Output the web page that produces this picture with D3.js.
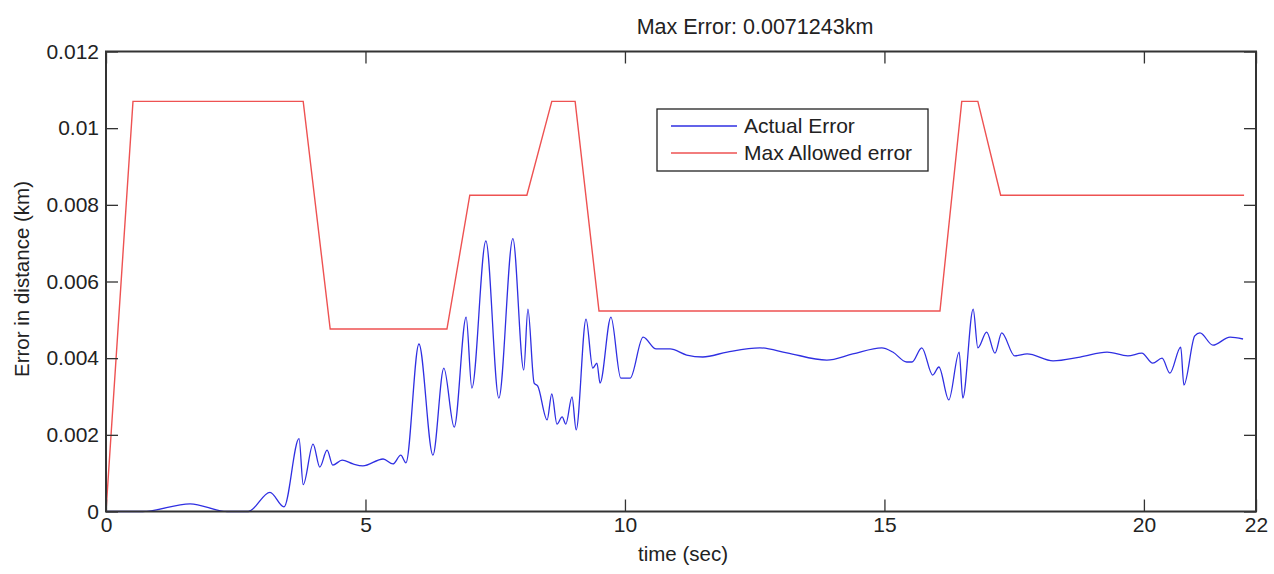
<!DOCTYPE html>
<html>
<head>
<meta charset="utf-8">
<script src="https://cdn.jsdelivr.net/npm/d3@7"></script>
<style>
  body { margin: 0; background: #fff; }
  svg { display: block; }
  text { font-family: "Liberation Sans", Arial, Helvetica, sans-serif; fill: #222; }
</style>
</head>
<body>
<svg width="1274" height="574"></svg>
<script>
// time axis of the actual error trace (sec)
var actualTime = [0, 0.71, 1.62, 2.33, 2.74, 3.16, 3.43, 3.72, 3.80, 3.99, 4.12, 4.26, 4.37, 4.55,
  4.76, 4.95, 5.34, 5.53, 5.68, 5.78, 6.03, 6.30, 6.51, 6.71, 6.94, 7.05, 7.32, 7.57, 7.84,
  8.05, 8.13, 8.25, 8.32, 8.50, 8.59, 8.69, 8.79, 8.86, 8.98, 9.06, 9.25, 9.38, 9.46, 9.52,
  9.73, 9.92, 10.10, 10.35, 10.60, 10.87, 11.19, 11.50, 11.97, 12.60, 13.12, 13.89, 14.39,
  14.95, 15.16, 15.43, 15.53, 15.72, 15.93, 16.05, 16.24, 16.44, 16.51, 16.71, 16.80, 16.97,
  17.13, 17.26, 17.51, 17.75, 18.25, 18.77, 19.29, 19.69, 19.96, 20.17, 20.35, 20.50, 20.71,
  20.77, 20.98, 21.08, 21.33, 21.66, 21.91];
// actual error (km)
var actualError = [0, 0, 0.0002, 0, 0, 0.0005, 0.00012, 0.0019, 0.0007, 0.00176, 0.00116, 0.0016,
  0.00121, 0.00134, 0.00124, 0.00119, 0.00137, 0.00124, 0.00147, 0.00127, 0.00437, 0.00147,
  0.00374, 0.0022, 0.00507, 0.00322, 0.00706, 0.00296, 0.00712, 0.00369, 0.00528, 0.00335,
  0.00327, 0.00239, 0.00307, 0.00228, 0.00247, 0.00228, 0.00299, 0.00213, 0.00502, 0.00374,
  0.00387, 0.00335, 0.00507, 0.00348, 0.00348, 0.00455, 0.00424, 0.00424, 0.00408, 0.00403,
  0.00416, 0.00427, 0.00414, 0.00395, 0.00411, 0.00427, 0.00416, 0.0039, 0.0039, 0.00427,
  0.00356, 0.00377, 0.00291, 0.00416, 0.00296, 0.00528, 0.00427, 0.00468, 0.00413, 0.00466,
  0.00406, 0.00411, 0.00393, 0.00403, 0.00416, 0.00406, 0.00413, 0.00387, 0.004, 0.00361,
  0.00429, 0.0033, 0.00458, 0.00466, 0.00434, 0.00455, 0.0045];

// max allowed error corners
var allowedTime = [0, 0.52, 3.80, 4.32, 6.57, 7.01, 8.11, 8.59, 9.04, 9.50, 16.07, 16.49, 16.80, 17.24, 21.93];
var allowedError = [0, 0.0107, 0.0107, 0.00476, 0.00476, 0.00825, 0.00825, 0.0107, 0.0107,
  0.00523, 0.00523, 0.0107, 0.0107, 0.00825, 0.00825];

var xTicks = [0, 5, 10, 15, 20, 22.16];
var yTicks = [0, 0.002, 0.004, 0.006, 0.008, 0.01, 0.012];
var seriesNames = ['Actual Error', 'Max Allowed error'];
var seriesColors = ['#2f2fe2', '#ee5252'];

var svg = d3.select('svg');
var plotL = 106, plotR = 1256, plotT = 51.5, plotB = 511.5;

var x = d3.scaleLinear().domain([0, 22.16]).range([plotL, plotR]);
var y = d3.scaleLinear().domain([0, 0.012]).range([plotB, plotT]);

var blueData = actualTime.map(function(t, i) { return [t, actualError[i]]; });
var redData = allowedTime.map(function(t, i) { return [t, allowedError[i]]; });

// lines
svg.append('path')
    .datum(redData)
    .attr('fill', 'none')
    .attr('stroke', seriesColors[1])
    .attr('stroke-width', 1.4)
    .attr('d', d3.line().x(function(d) { return x(d[0]); }).y(function(d) { return y(d[1]); }));

svg.append('path')
    .datum(blueData)
    .attr('fill', 'none')
    .attr('stroke', seriesColors[0])
    .attr('stroke-width', 1.3)
    .attr('d', d3.line().curve(d3.curveMonotoneX)
      .x(function(d) { return x(d[0]); }).y(function(d) { return y(d[1]); }));

// axes, ticks pointing inward, on all four sides
var fmtX = function(d) { return d > 21 ? '22' : d; };
var fmtY = function(d) { return d === 0 ? '0' : String(+d.toFixed(3)); };

var xb = svg.append('g').attr('transform', 'translate(0,' + plotB + ')')
    .call(d3.axisBottom(x).tickValues(xTicks).tickFormat(fmtX).tickSizeInner(-12).tickSizeOuter(0).tickPadding(6));
var xt = svg.append('g').attr('transform', 'translate(0,' + plotT + ')')
    .call(d3.axisTop(x).tickValues(xTicks).tickFormat('').tickSizeInner(-12).tickSizeOuter(0));
var yl = svg.append('g').attr('transform', 'translate(' + plotL + ',0)')
    .call(d3.axisLeft(y).tickValues(yTicks).tickFormat(fmtY).tickSizeInner(-12).tickSizeOuter(0).tickPadding(7));
var yr = svg.append('g').attr('transform', 'translate(' + plotR + ',0)')
    .call(d3.axisRight(y).tickValues(yTicks).tickFormat('').tickSizeInner(-12).tickSizeOuter(0));

[xb, xt, yl, yr].forEach(function(g) {
  g.select('.domain').remove();
  g.selectAll('line').attr('stroke', '#333').attr('stroke-width', 1.3);
  g.selectAll('text').attr('font-size', 21).attr('fill', '#222')
    .style('font-family', '"Liberation Sans", Arial, sans-serif');
});

svg.append('rect')
    .attr('x', plotL).attr('y', plotT)
    .attr('width', plotR - plotL).attr('height', plotB - plotT)
    .attr('fill', 'none').attr('stroke', '#333').attr('stroke-width', 2);

// labels
svg.append('text')
    .attr('x', 755).attr('y', 34)
    .attr('text-anchor', 'middle').attr('font-size', 21.5)
    .text('Max Error: 0.0071243km');

svg.append('text')
    .attr('x', 683).attr('y', 561)
    .attr('text-anchor', 'middle').attr('font-size', 20.5)
    .text('time (sec)');

svg.append('text')
    .attr('transform', 'translate(29,279) rotate(-90)')
    .attr('text-anchor', 'middle').attr('font-size', 20.5)
    .text('Error in distance (km)');

// legend
var legend = svg.append('g').attr('transform', 'translate(657,109)');
legend.append('rect')
    .attr('width', 271).attr('height', 62)
    .attr('fill', '#fff').attr('stroke', '#222').attr('stroke-width', 1.3);

var items = legend.selectAll('g.item')
    .data(seriesNames)
    .enter()
    .append('g')
    .attr('class', 'item')
    .attr('transform', function(d, i) { return 'translate(0,' + (17 + i * 27) + ')'; });

items.append('line')
    .attr('x1', 14).attr('x2', 80)
    .attr('stroke', function(d, i) { return seriesColors[i]; })
    .attr('stroke-width', 1.4);

items.append('text')
    .attr('x', 87).attr('y', 7)
    .attr('font-size', 21)
    .text(function(d) { return d; });
</script>
</body>
</html>
